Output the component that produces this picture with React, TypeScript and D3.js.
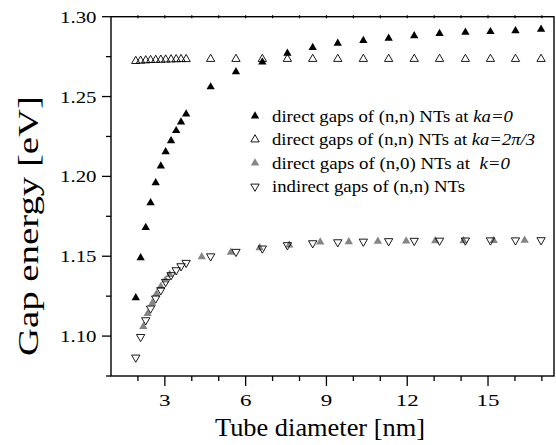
import React from "react";
import * as d3 from "d3";

// Tube diameters (nm) of the (n,n) tubes and their gap energies (eV)
const armchairDiameter = [1.92, 2.10, 2.29, 2.47, 2.66, 2.85, 3.03, 3.23, 3.42, 3.60, 3.79, 4.70, 5.64, 6.62, 7.55, 8.49, 9.42, 10.37, 11.31, 12.26, 13.20, 14.16, 15.09, 16.02, 16.97];
const directKa0 = [1.124, 1.149, 1.168, 1.1835, 1.196, 1.2065, 1.2154, 1.2223, 1.2286, 1.234, 1.239, 1.256, 1.2655, 1.2716, 1.277, 1.2806, 1.2833, 1.285, 1.2864, 1.288, 1.2894, 1.2902, 1.2906, 1.2912, 1.2921];
const directKa2pi3 = [1.2722, 1.2724, 1.2726, 1.2728, 1.2729, 1.273, 1.2731, 1.2732, 1.2733, 1.2734, 1.2734, 1.2735, 1.2735, 1.2735, 1.2735, 1.2735, 1.2735, 1.2735, 1.2735, 1.2735, 1.2735, 1.2735, 1.2735, 1.2735, 1.2735];
const indirectGap = [1.0866, 1.0995, 1.11, 1.1173, 1.1236, 1.1288, 1.134, 1.1382, 1.1413, 1.1438, 1.1459, 1.15, 1.1528, 1.1549, 1.157, 1.1582, 1.1588, 1.1592, 1.1595, 1.1597, 1.1598, 1.1599, 1.16, 1.16, 1.1601];

// (n,0) tubes
const zigzagDiameter = [2.2, 2.36, 2.53, 2.69, 2.85, 3.02, 3.18, 4.37, 5.45, 6.52, 7.62, 8.77, 9.83, 10.91, 11.96, 13.04, 14.09, 15.21, 16.36];
const zigzagGap = [1.106, 1.114, 1.1205, 1.1265, 1.131, 1.135, 1.1385, 1.1496, 1.1524, 1.1552, 1.157, 1.1588, 1.159, 1.1594, 1.1595, 1.1596, 1.1597, 1.1598, 1.16];

const xMajorTicks = [3, 6, 9, 12, 15];
const xMinorTicks = [2, 4, 5, 7, 8, 10, 11, 13, 14, 16, 17];
const yMajorTicks = [1.1, 1.15, 1.2, 1.25, 1.3];
const yMinorTicks = [1.075, 1.125, 1.175, 1.225, 1.275];

const legendLabels = [
  ["direct gaps of (n,n) NTs at ", "ka=0"],
  ["direct gaps of (n,n) NTs at ", "ka=2\u03c0/3"],
  ["direct gaps of (n,0) NTs at  ", "k=0"],
  ["indirect gaps of (n,n) NTs", ""],
];

const W = 556;
const H = 445;
const left = 111;
const right = 554;
const top = 16.7;
const bottom = 376;

const FONT = "Liberation Serif, Times New Roman, Times, serif";
const GREY = "#858585";

const tri = d3.symbol().type(d3.symbolTriangle).size(30)() as string;

type Style = { fill: string; stroke: string; rot: number };
const styles: Style[] = [
  { fill: "#000", stroke: "none", rot: 0 },
  { fill: "#fff", stroke: "#000", rot: 0 },
  { fill: GREY, stroke: "none", rot: 0 },
  { fill: "#fff", stroke: "#000", rot: 180 },
];

function Marker({ x, y, s }: { x: number; y: number; s: Style }) {
  return (
    <path
      d={tri}
      transform={`translate(${x},${y}) rotate(${s.rot})`}
      fill={s.fill}
      fillOpacity={s.fill === "#fff" ? 0 : 1}
      stroke={s.stroke}
      strokeWidth={0.9}
    />
  );
}

export default function App() {
  const x = d3.scaleLinear().domain([1, 17.45]).range([left, right]);
  const y = d3.scaleLinear().domain([1.075, 1.3]).range([bottom, top]);

  const series: { xs: number[]; ys: number[]; s: Style }[] = [
    { xs: armchairDiameter, ys: directKa2pi3, s: styles[1] },
    { xs: zigzagDiameter, ys: zigzagGap, s: styles[2] },
    { xs: armchairDiameter, ys: indirectGap, s: styles[3] },
    { xs: armchairDiameter, ys: directKa0, s: styles[0] },
  ];

  const legendY = [116, 139.5, 163, 186.5];
  const legendLen = [241, 263, 238, 193];

  return (
    <svg
      width={W}
      height={H}
      style={{ position: "absolute", left: 0, top: 0, background: "#fff", fontFamily: FONT }}
    >
      <rect x={0} y={0} width={W} height={H} fill="#fff" />

      {/* markers */}
      {series.map((sr, i) =>
        sr.xs.map((d, j) => <Marker key={`${i}-${j}`} x={x(d)} y={y(sr.ys[j])} s={sr.s} />)
      )}

      {/* frame */}
      <rect
        x={left}
        y={top}
        width={right - left}
        height={bottom - top}
        fill="none"
        stroke="#000"
        strokeWidth={1.4}
      />

      {/* bottom axis ticks */}
      {xMajorTicks.map((t) => (
        <line key={`xM${t}`} x1={x(t)} x2={x(t)} y1={bottom} y2={bottom + 10} stroke="#000" strokeWidth={1.3} />
      ))}
      {xMinorTicks.map((t) => (
        <line key={`xm${t}`} x1={x(t)} x2={x(t)} y1={bottom} y2={bottom + 5} stroke="#000" strokeWidth={1.3} />
      ))}
      {/* top axis ticks */}
      {[...xMajorTicks, ...xMinorTicks].map((t) => (
        <line key={`xt${t}`} x1={x(t)} x2={x(t)} y1={top - 1.5} y2={top + 1.5} stroke="#000" strokeWidth={1.2} />
      ))}
      {xMajorTicks.map((t) => (
        <text
          key={`xl${t}`}
          x={x(t)}
          y={406}
          fontSize={17}
          textAnchor="middle"
          textLength={t < 10 ? 11.5 : 23}
          lengthAdjust="spacingAndGlyphs"
        >
          {t}
        </text>
      ))}

      {/* left axis ticks */}
      {yMajorTicks.map((t) => (
        <line key={`yM${t}`} x1={left - 9} x2={left} y1={y(t)} y2={y(t)} stroke="#000" strokeWidth={1.3} />
      ))}
      {yMinorTicks.map((t) => (
        <line key={`ym${t}`} x1={left - 5} x2={left} y1={y(t)} y2={y(t)} stroke="#000" strokeWidth={1.3} />
      ))}
      {yMajorTicks.map((t) => (
        <text
          key={`yl${t}`}
          x={60}
          y={y(t) + 6}
          fontSize={17}
          textLength={36.5}
          lengthAdjust="spacingAndGlyphs"
        >
          {d3.format(".2f")(t)}
        </text>
      ))}

      {/* axis titles */}
      <text
        x={(215 + 425) / 2}
        y={436}
        fontSize={26}
        textAnchor="middle"
        textLength={210}
        lengthAdjust="spacingAndGlyphs"
      >
        Tube diameter [nm]
      </text>
      <text
        transform={`translate(38,${(95 + 357) / 2}) rotate(-90)`}
        fontSize={30}
        textAnchor="middle"
        textLength={260}
        lengthAdjust="spacingAndGlyphs"
      >
        Gap energy [eV]
      </text>

      {/* legend */}
      {legendLabels.map((lab, i) => (
        <g key={`lg${i}`}>
          <Marker x={255} y={legendY[i]} s={styles[i]} />
          <text
            x={272}
            y={legendY[i] + 5.5}
            fontSize={17}
            textLength={legendLen[i]}
            lengthAdjust="spacingAndGlyphs"
            xmlSpace="preserve"
          >
            {lab[0]}
            {lab[1] && <tspan fontStyle="italic">{lab[1]}</tspan>}
          </text>
        </g>
      ))}
    </svg>
  );
}
